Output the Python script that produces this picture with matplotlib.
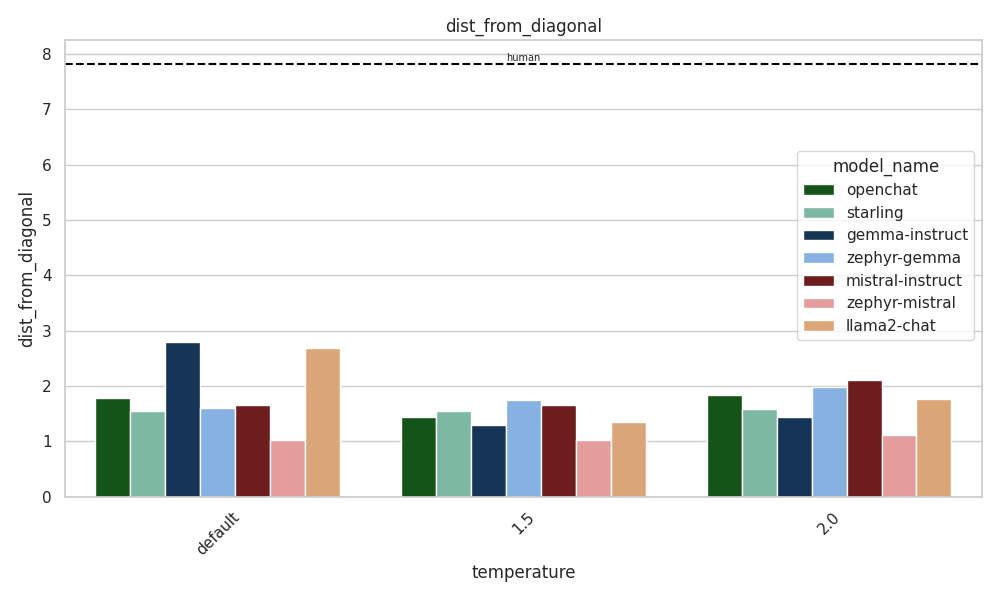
import matplotlib
matplotlib.use("Agg")
import matplotlib.pyplot as plt
import seaborn as sns
import pandas as pd

temperatures = ["default", "1.5", "2.0"]
models = ["openchat", "starling", "gemma-instruct", "zephyr-gemma",
          "mistral-instruct", "zephyr-mistral", "llama2-chat"]
colors = ["#0b5e0f", "#73c2a5", "#0b3360", "#77b1ef", "#7a1010", "#f09090", "#eca566"]
values = {
    "default": [1.79, 1.54, 2.80, 1.61, 1.66, 1.03, 2.69],
    "1.5": [1.43, 1.54, 1.30, 1.75, 1.65, 1.03, 1.34],
    "2.0": [1.83, 1.59, 1.44, 1.99, 2.11, 1.12, 1.77],
}
human = 7.82

rows = []
for t in temperatures:
    for m, v in zip(models, values[t]):
        rows.append({"temperature": t, "model_name": m, "dist_from_diagonal": v})
df = pd.DataFrame(rows)

sns.set_theme(style="whitegrid")
fig, ax = plt.subplots(figsize=(10, 6), dpi=100)
sns.barplot(data=df, x="temperature", y="dist_from_diagonal", hue="model_name",
            palette=colors, ax=ax, edgecolor="white")
ax.axhline(human, color="black", linestyle="--")
ax.text(0.5, human + 0.02, "human", ha="center", va="bottom", fontsize=7,
        transform=ax.get_yaxis_transform())
ax.set_ylim(0, 8.25)
ax.set_title("dist_from_diagonal")
plt.setp(ax.get_xticklabels(), rotation=45)
ax.legend(title="model_name", loc="center right", bbox_to_anchor=(1.0, 0.55))
plt.tight_layout()
plt.savefig("out.png")
